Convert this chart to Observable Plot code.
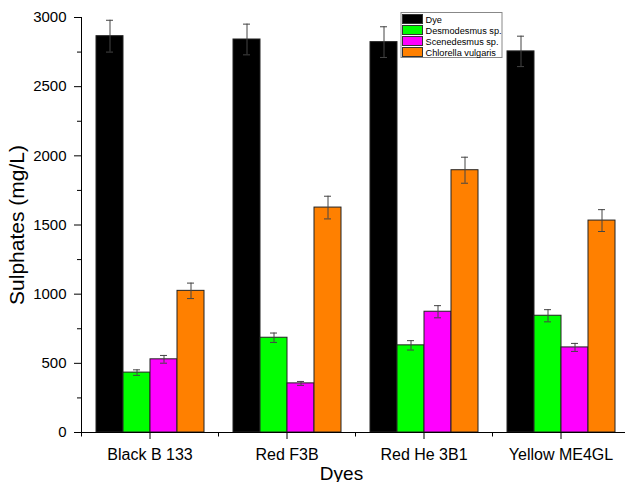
<!DOCTYPE html>
<html><head><meta charset="utf-8">
<script src="https://cdn.jsdelivr.net/npm/d3@7"></script>
<script src="https://cdn.jsdelivr.net/npm/@observablehq/plot@0.6"></script>
<style>
body{margin:0;background:#fff;overflow:hidden}
#chart svg{font-family:"Liberation Sans",Arial,sans-serif}
g[aria-label="y-axis label"] text{font-size:21px}
g[aria-label="fx-axis label"] text{font-size:19px}
</style></head><body><div id="chart"></div>
<script>
const dyes = ["Black B 133", "Red F3B", "Red He 3B1", "Yellow ME4GL"];
const series = ["Dye", "Desmodesmus sp.", "Scenedesmus sp.", "Chlorella vulgaris"];
const colors = ["#000000", "#00ff00", "#ff00ff", "#ff8000"];
const dyeValues = [2865, 2841, 2822, 2755];
const dyeErrors = [115, 111, 111, 110];
const desmoValues = [433, 685, 630, 844];
const desmoErrors = [20, 34, 34, 44];
const scenValues = [529, 355, 873, 615];
const scenErrors = [28, 14, 44, 29];
const chlorValues = [1024, 1626, 1896, 1532];
const chlorErrors = [56, 82, 94, 79];
const yTicks = [0, 500, 1000, 1500, 2000, 2500, 3000];
const yMinorTicks = [250, 750, 1250, 1750, 2250, 2750];

const valueSets = [dyeValues, desmoValues, scenValues, chlorValues];
const errorSets = [dyeErrors, desmoErrors, scenErrors, chlorErrors];
const rows = [];
dyes.forEach((dye, i) => series.forEach((s, j) => rows.push({dye, series: s, value: valueSets[j][i], err: errorSets[j][i]})));

const W = 625, H = 482, mL = 81, mR = -4, mT = 17, mB = 50;

const plot = Plot.plot({
  width: W, height: H,
  marginLeft: mL, marginRight: mR, marginTop: mT, marginBottom: mB,
  style: {fontFamily: "Liberation Sans, Arial, sans-serif", background: "white", color: "black"},
  fx: {domain: dyes, padding: 0},
  x: {domain: series, paddingInner: 0, paddingOuter: 0.49, axis: null},
  y: {domain: [0, 3000]},
  color: {domain: series, range: colors},
  marks: [
    Plot.barY(rows, {fx: "dye", x: "series", y: "value", fill: "series", stroke: "#222", strokeWidth: 1}),
    Plot.ruleX(rows, {fx: "dye", x: "series", y1: d => d.value - d.err, y2: d => d.value + d.err, stroke: "#444", strokeWidth: 1}),
    Plot.tickY(rows, {fx: "dye", x: "series", y: d => d.value + d.err, stroke: "#444", strokeWidth: 1, insetLeft: 10, insetRight: 10}),
    Plot.tickY(rows, {fx: "dye", x: "series", y: d => d.value - d.err, stroke: "#444", strokeWidth: 1, insetLeft: 10, insetRight: 10}),
    Plot.ruleY([0], {stroke: "black", strokeWidth: 1}),
    Plot.frame({anchor: "left", facetAnchor: "left", stroke: "black"}),
    Plot.axisY({ticks: yTicks, tickFormat: d => String(d), tickSize: 7, tickPadding: 8, fontSize: 15, label: "Sulphates (mg/L)", labelAnchor: "center", labelArrow: "none", labelOffset: 72}),
    Plot.axisY({ticks: yMinorTicks, tickSize: 4, text: null, label: null}),
    Plot.axisFx({anchor: "bottom", tickSize: 7, tickPadding: 9, fontSize: 16, label: "Dyes", labelAnchor: "center", labelArrow: "none", labelOffset: 47})
  ]
});
document.getElementById("chart").appendChild(plot);

const svg = d3.select(plot.tagName.toLowerCase() === "svg" ? plot : plot.querySelector("svg"));

// shift the x-axis title slightly left as in the reference
const lab = svg.select('g[aria-label="fx-axis label"]');
if (!lab.empty()) lab.attr("transform", (lab.attr("transform") || "") + " translate(-14,0)");

// minor x ticks at the group boundaries, from Plot's fx scale
const fx = plot.scale("fx");
const yScale = plot.scale("y");
const y0 = Math.round(yScale.apply(0)) + 0.5;
svg.append("g").attr("stroke", "black").attr("stroke-width", 1)
  .selectAll("line").data(dyes).join("line")
  .attr("x1", d => Math.round(fx.apply(d)) + 0.5).attr("x2", d => Math.round(fx.apply(d)) + 0.5)
  .attr("y1", y0).attr("y2", y0 + 4);

// legend inside the plot area
const lg = svg.append("g").attr("transform", "translate(401,12.5)").attr("text-anchor", "start");
lg.append("rect").attr("width", 101).attr("height", 45).attr("fill", "white").attr("stroke", "#888");
series.forEach((s, i) => {
  const g = lg.append("g").attr("transform", `translate(1.5,${2 + i * 11})`);
  g.append("rect").attr("width", 20).attr("height", 9).attr("fill", colors[i]).attr("stroke", "#333");
  g.append("text").attr("x", 23).attr("y", 8).attr("font-size", 9.2)
    .attr("font-family", "Liberation Sans, Arial, sans-serif").attr("fill", "black").text(s);
});
</script></body></html>
